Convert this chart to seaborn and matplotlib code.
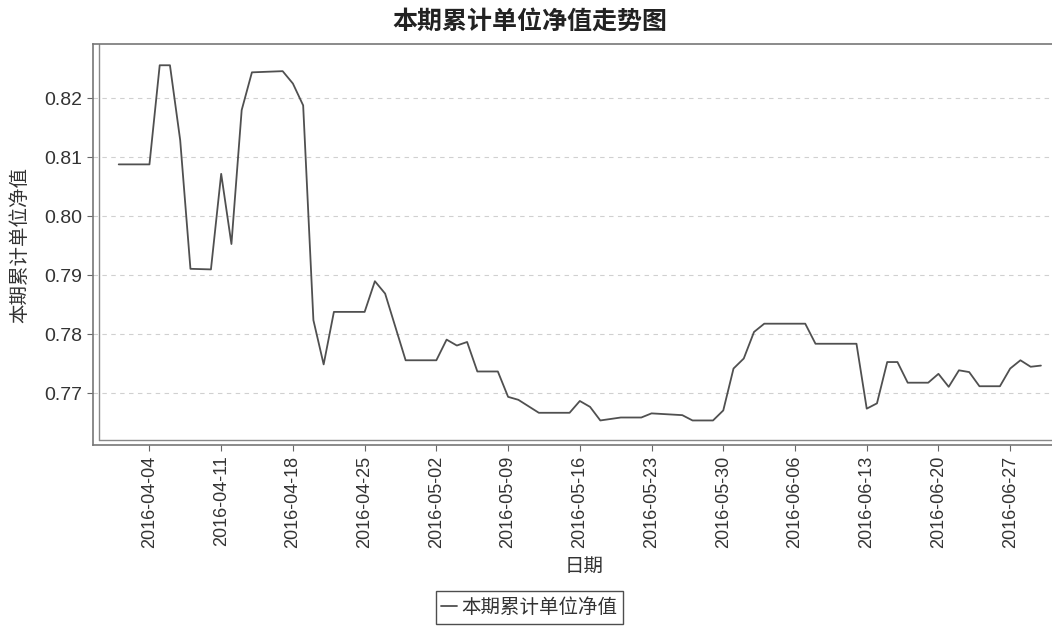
import seaborn as sns
import matplotlib.pyplot as plt
import matplotlib.dates as mdates
import pandas as pd

sns.set_style("white")
plt.rcParams['font.family'] = ['Liberation Sans', 'Noto Sans CJK SC', 'DejaVu Sans']
CJK = ['Noto Sans CJK SC', 'DejaVu Sans']

# 本期累计单位净值 (vertices)
dates = ["2016-04-01", "2016-04-04", "2016-04-05", "2016-04-06", "2016-04-07",
         "2016-04-08", "2016-04-10", "2016-04-11", "2016-04-12", "2016-04-13",
         "2016-04-14", "2016-04-17", "2016-04-18", "2016-04-19", "2016-04-20",
         "2016-04-21", "2016-04-22", "2016-04-25", "2016-04-26", "2016-04-27",
         "2016-04-29", "2016-05-02", "2016-05-03", "2016-05-04", "2016-05-05",
         "2016-05-06", "2016-05-08", "2016-05-09", "2016-05-10", "2016-05-12",
         "2016-05-15", "2016-05-16", "2016-05-17", "2016-05-18", "2016-05-20",
         "2016-05-22", "2016-05-23", "2016-05-26", "2016-05-27", "2016-05-29",
         "2016-05-30", "2016-05-31", "2016-06-01", "2016-06-02", "2016-06-03",
         "2016-06-07", "2016-06-08", "2016-06-12", "2016-06-13", "2016-06-14",
         "2016-06-15", "2016-06-16", "2016-06-17", "2016-06-19", "2016-06-20",
         "2016-06-21", "2016-06-22", "2016-06-23", "2016-06-24", "2016-06-26",
         "2016-06-27", "2016-06-28", "2016-06-29", "2016-06-30"]
nav = [0.8088, 0.8088, 0.8256, 0.8256, 0.8129,
       0.7911, 0.7910, 0.8072, 0.7953, 0.8180,
       0.8244, 0.8246, 0.8225, 0.8188, 0.7824,
       0.7749, 0.7838, 0.7838, 0.7890, 0.7869,
       0.7756, 0.7756, 0.7791, 0.7781, 0.7787,
       0.7737, 0.7737, 0.7694, 0.7689, 0.7667,
       0.7667, 0.7687, 0.7677, 0.7654, 0.7659,
       0.7659, 0.7666, 0.7663, 0.7654, 0.7654,
       0.7671, 0.7742, 0.7759, 0.7804, 0.7818,
       0.7818, 0.7784, 0.7784, 0.7674, 0.7683,
       0.7753, 0.7753, 0.7718, 0.7718, 0.7733,
       0.7711, 0.7739, 0.7736, 0.7712, 0.7712,
       0.7742, 0.7756, 0.7745, 0.7747]
yticks = [0.77, 0.78, 0.79, 0.80, 0.81, 0.82]
xticks = ["2016-04-04", "2016-04-11", "2016-04-18", "2016-04-25", "2016-05-02",
          "2016-05-09", "2016-05-16", "2016-05-23", "2016-05-30", "2016-06-06",
          "2016-06-13", "2016-06-20", "2016-06-27"]

df = pd.DataFrame({"日期": pd.to_datetime(dates), "本期累计单位净值": nav})

fig = plt.figure(figsize=(10.52, 6.28), dpi=100)
ax = fig.add_axes([0.0884, 0.2914, 0.9335, 0.6385])

sns.lineplot(data=df, x="日期", y="本期累计单位净值", ax=ax, color="#505050",
             linewidth=1.3, label="本期累计单位净值")

base = pd.Timestamp("2016-04-04")
ax.set_xlim(base - pd.Timedelta(days=5.51), base + pd.Timedelta(days=90.33))
ax.set_ylim(0.76124, 0.8292)

ax.set_yticks(yticks)
ax.yaxis.set_major_formatter(plt.FormatStrFormatter("%.2f"))
ax.set_xticks(pd.to_datetime(xticks))
ax.xaxis.set_major_formatter(mdates.DateFormatter("%Y-%m-%d"))
ax.tick_params(axis="x", labelrotation=90, labelsize=13, length=4, color="#666666",
               labelcolor="#333333", bottom=True)
ax.tick_params(axis="y", labelsize=14, length=4, color="#666666",
               labelcolor="#333333", left=True)

ax.yaxis.grid(True, linestyle=(0, (4, 4)), color="#d0d0d0", linewidth=0.8)
ax.xaxis.grid(False)

for s in ax.spines.values():
    s.set_color("#777777")
    s.set_linewidth(1.2)
# inner line of the double frame
ax.plot([0.0061, 0.0061], [0.0125, 1.0], transform=ax.transAxes, color="#888888", linewidth=1)
ax.plot([0.0061, 1.0], [0.0125, 0.0125], transform=ax.transAxes, color="#888888", linewidth=1)

ax.set_xlabel("日期", family=CJK, fontsize=14, color="#333333", labelpad=6)
ax.set_ylabel("本期累计单位净值", family=CJK, fontsize=14, color="#333333", labelpad=10)
fig.text(0.504, 0.966, "本期累计单位净值走势图", family=CJK, fontsize=18,
         fontweight="bold", ha="center", va="center", color="#222222")

leg = ax.legend(loc="center", bbox_to_anchor=(0.503, 0.033), bbox_transform=fig.transFigure,
                prop={"family": CJK, "size": 14}, frameon=True, fancybox=False,
                handlelength=0.8, handletextpad=0.2, borderpad=0.3, borderaxespad=0)
leg.get_frame().set_edgecolor("#222222")
leg.get_frame().set_linewidth(1.0)
for t in leg.get_texts():
    t.set_color("#333333")

fig.savefig("out.png", dpi=100)
